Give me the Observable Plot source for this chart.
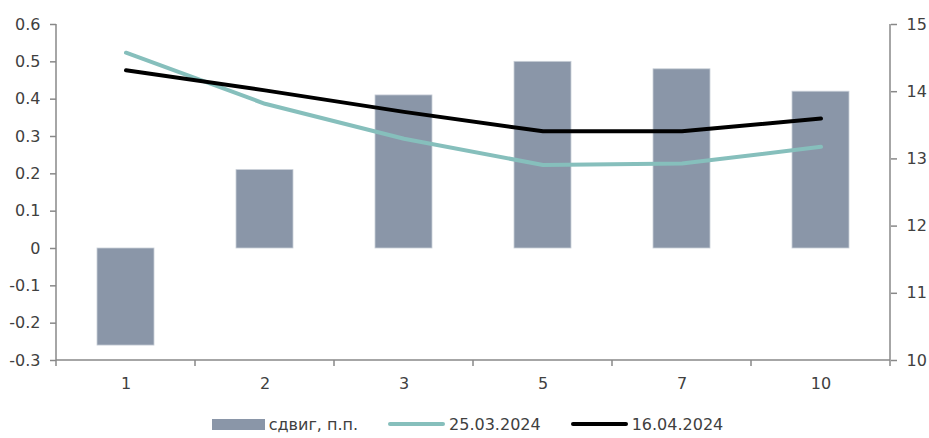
<!DOCTYPE html>
<html>
<head>
<meta charset="utf-8">
<script src="https://cdn.jsdelivr.net/npm/d3@7"></script>
<script src="https://cdn.jsdelivr.net/npm/@observablehq/plot@0.6"></script>
<style>
  html, body { margin: 0; padding: 0; background: #fff; overflow: hidden; }
  #chart { width: 929px; height: 438px; position: relative; font-family: "DejaVu Sans", sans-serif; color: #404040; }
  .legend { display: flex; justify-content: center; align-items: center; gap: 30px; font-size: 16px; height: 28px; margin-left: 6px; }
  .item { display: flex; align-items: center; gap: 4px; }
  .sw-bar { width: 53px; height: 11px; background: #8A96A8; }
  .sw-line { width: 57px; height: 4px; border-radius: 2px; }
</style>
</head>
<body>
<div id="chart"></div>
<script>
// ---- data ----
const categories = ["1", "2", "3", "5", "7", "10"];
const shift = [-0.26, 0.21, 0.41, 0.50, 0.48, 0.42];          // сдвиг, п.п. (left axis)
const yield250324 = [14.58, 13.82, 13.30, 12.91, 12.93, 13.18]; // 25.03.2024 (right axis)
const yield160424 = [14.32, 14.02, 13.70, 13.41, 13.41, 13.60]; // 16.04.2024 (right axis)
const leftTicks = [-0.3, -0.2, -0.1, 0, 0.1, 0.2, 0.3, 0.4, 0.5, 0.6];
const rightTicks = [10, 11, 12, 13, 14, 15];
const seriesNames = ["сдвиг, п.п.", "25.03.2024", "16.04.2024"];

// ---- dual-axis mapping ----
const leftDomain = [-0.3, 0.6];
const rightDomain = [10, 15];
const toLeft = v => leftDomain[0] + (v - rightDomain[0]) / (rightDomain[1] - rightDomain[0]) * (leftDomain[1] - leftDomain[0]);
const fromLeft = v => rightDomain[0] + (v - leftDomain[0]) / (leftDomain[1] - leftDomain[0]) * (rightDomain[1] - rightDomain[0]);

const bars = categories.map((c, i) => ({cat: c, value: shift[i]}));
const lineA = categories.map((c, i) => ({cat: c, value: toLeft(yield250324[i])}));
const lineB = categories.map((c, i) => ({cat: c, value: toLeft(yield160424[i])}));

const W = 929, H = 410, mL = 56, mR = 39, mT = 24, mB = 50;
const axisColor = "#888888";

// axis lines and category boundary ticks
function axisFrame(index, scales, values, dims) {
  const g = d3.create("svg:g").attr("stroke", axisColor).attr("stroke-width", 1.5).attr("fill", "none");
  const left = dims.marginLeft, right = dims.width - dims.marginRight;
  const top = dims.marginTop, bottom = dims.height - dims.marginBottom;
  g.append("line").attr("x1", left).attr("x2", left).attr("y1", top).attr("y2", bottom);
  g.append("line").attr("x1", right).attr("x2", right).attr("y1", top).attr("y2", bottom);
  g.append("line").attr("x1", left).attr("x2", right).attr("y1", bottom).attr("y2", bottom);
  const step = (right - left) / categories.length;
  for (let i = 0; i <= categories.length; i++) {
    const x = left + i * step;
    g.append("line").attr("x1", x).attr("x2", x).attr("y1", bottom).attr("y2", bottom + 6);
  }
  return g.node();
}

const plot = Plot.plot({
  width: W,
  height: H,
  marginLeft: mL,
  marginRight: mR,
  marginTop: mT,
  marginBottom: mB,
  style: {fontFamily: "DejaVu Sans, sans-serif", fontSize: "16px", color: "#404040", background: "#fff"},
  x: {type: "band", domain: categories, paddingInner: 0.59, paddingOuter: 0.295, axis: null},
  y: {domain: leftDomain, nice: false, axis: null},
  marks: [
    Plot.barY(bars, {x: "cat", y: "value", fill: "#8A96A8", stroke: "#C9CFD8", strokeWidth: 0.8}),
    Plot.line(lineA, {x: "cat", y: "value", stroke: "#86BFBC", strokeWidth: 4, curve: "linear", strokeLinecap: "round", strokeLinejoin: "round"}),
    Plot.line(lineB, {x: "cat", y: "value", stroke: "#000000", strokeWidth: 4, curve: "linear", strokeLinecap: "round", strokeLinejoin: "round"}),
    axisFrame,
    Plot.axisY({anchor: "left", ticks: leftTicks, tickSize: 6, tickPadding: 10, stroke: axisColor, strokeWidth: 1.5,
      tickFormat: d => Math.abs(d) < 1e-9 ? "0" : d.toFixed(1), label: null, fill: "#404040"}),
    Plot.axisY({anchor: "right", ticks: rightTicks.map(toLeft), tickSize: 6, tickPadding: 10, stroke: axisColor, strokeWidth: 1.5,
      tickFormat: d => String(Math.round(fromLeft(d))), label: null, fill: "#404040"}),
    Plot.axisX({anchor: "bottom", tickSize: 0, tickPadding: 17, label: null, fill: "#404040"})
  ]
});

const chart = document.getElementById("chart");
chart.appendChild(plot);

const legend = document.createElement("div");
legend.className = "legend";
legend.innerHTML = `
  <div class="item"><div class="sw-bar"></div><span>${seriesNames[0]}</span></div>
  <div class="item"><div class="sw-line" style="background:#86BFBC"></div><span>${seriesNames[1]}</span></div>
  <div class="item"><div class="sw-line" style="background:#000"></div><span>${seriesNames[2]}</span></div>`;
chart.appendChild(legend);
</script>
</body>
</html>
